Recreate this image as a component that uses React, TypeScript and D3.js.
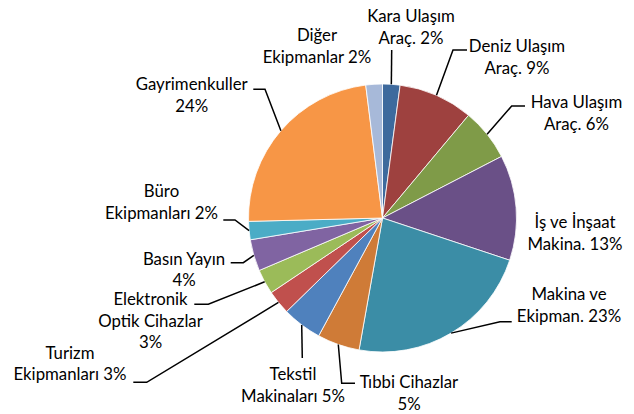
import React from "react";
import * as d3 from "d3";

// ---- data ----
const categories = [
  "Kara Ulaşım Araç.",
  "Deniz Ulaşım Araç.",
  "Hava Ulaşım Araç.",
  "İş ve İnşaat Makina.",
  "Makina ve Ekipman.",
  "Tıbbi Cihazlar",
  "Tekstil Makinaları",
  "Turizm Ekipmanları",
  "Elektronik Optik Cihazlar",
  "Basın Yayın",
  "Büro Ekipmanları",
  "Gayrimenkuller",
  "Diğer Ekipmanlar",
];
const shares = [2.1, 9.0, 6.3, 12.7, 22.7, 5.1, 4.8, 2.9, 3.0, 3.8, 2.2, 23.4, 2.0];
const percentLabels = ["2%", "9%", "6%", "13%", "23%", "5%", "5%", "3%", "3%", "4%", "2%", "24%", "2%"];
const labelLines: string[][] = [
  ["Kara Ulaşım", "Araç. 2%"],
  ["Deniz Ulaşım", "Araç. 9%"],
  ["Hava Ulaşım", "Araç. 6%"],
  ["İş ve İnşaat", "Makina. 13%"],
  ["Makina ve", "Ekipman. 23%"],
  ["Tıbbi Cihazlar", "5%"],
  ["Tekstil", "Makinaları 5%"],
  ["Turizm", "Ekipmanları 3%"],
  ["Elektronik", "Optik Cihazlar", "3%"],
  ["Basın Yayın", "4%"],
  ["Büro", "Ekipmanları 2%"],
  ["Gayrimenkuller", "24%"],
  ["Diğer", "Ekipmanlar 2%"],
];

// ---- styles / layout ----
const colors = [
  "#3E6A9D", "#9E413F", "#7F9B48", "#6A5087", "#3B8DA6", "#CF7B37",
  "#4F81BD", "#C0504D", "#9BBB59", "#8064A2", "#4BACC6", "#F79646", "#A7B9D9",
];
const W = 634, H = 414;
const cx = 382.5, cy = 218, R = 134;
// label layout: centre x, first baseline y, leader elbow & end (null = no leader)
const labelLayout: { x: number; y: number; leader: number[][] | null }[] = [
  { x: 411, y: 22, leader: [[391.7, 50], [391.7, 50]] },
  { x: 517, y: 52, leader: [[453, 50], [467, 50]] },
  { x: 576.5, y: 108, leader: [[511.7, 106], [525, 106]] },
  { x: 575, y: 228, leader: null },
  { x: 569, y: 300, leader: [[500, 321.7], [511.7, 321.7]] },
  { x: 409, y: 388, leader: [[341.7, 383.3], [355, 383.3]] },
  { x: 293, y: 380, leader: [[302.3, 358], [302.3, 358]] },
  { x: 70, y: 358.5, leader: [[146.7, 382.3], [133.3, 382.3]] },
  { x: 150.5, y: 305, leader: [[208.3, 304.3], [194.3, 304.3]] },
  { x: 184, y: 264.5, leader: [[243.3, 262.7], [230.7, 262.7]] },
  { x: 161.5, y: 197, leader: [[235, 220], [223.3, 220]] },
  { x: 191.7, y: 90, leader: [[265, 89.3], [253.3, 89.3]] },
  { x: 317, y: 41, leader: null },
];
const lineH = 21.7;

export default function App() {
  const data = categories.map((c, i) => ({ name: c, value: shares[i], pct: percentLabels[i], i }));
  const pie = d3.pie<any>().value((d) => d.value).sort(null)(data);
  const arc = d3.arc<any>().innerRadius(0).outerRadius(R);

  return (
    <div style={{ position: "fixed", left: 0, top: 0 }}>
      <svg width={W} height={H} style={{ display: "block", background: "#fff" }}>
        <g transform={`translate(${cx},${cy})`}>
          {pie.map((p, i) => (
            <path key={i} d={arc(p) as string} fill={colors[i]} stroke="#fff" strokeWidth={0.8} />
          ))}
        </g>
        {pie.map((p, i) => {
          const L = labelLayout[i];
          if (!L.leader) return null;
          const mid = (p.startAngle + p.endAngle) / 2;
          const sx = cx + R * Math.sin(mid);
          const sy = cy - R * Math.cos(mid);
          const pts = [[sx, sy], ...L.leader];
          return (
            <polyline
              key={"l" + i}
              points={pts.map((q) => q.join(",")).join(" ")}
              fill="none"
              stroke="#000"
              strokeWidth={1.5}
            />
          );
        })}
        {labelLines.map((lines, i) => (
          <text
            key={"t" + i}
            x={labelLayout[i].x}
            y={labelLayout[i].y}
            textAnchor="middle"
            fontFamily="Lato, 'Open Sans', sans-serif"
            fontSize={16.8}
            fill="#000"
          >
            {lines.map((s, j) => (
              <tspan key={j} x={labelLayout[i].x} dy={j === 0 ? 0 : lineH}>
                {s}
              </tspan>
            ))}
          </text>
        ))}
      </svg>
    </div>
  );
}
